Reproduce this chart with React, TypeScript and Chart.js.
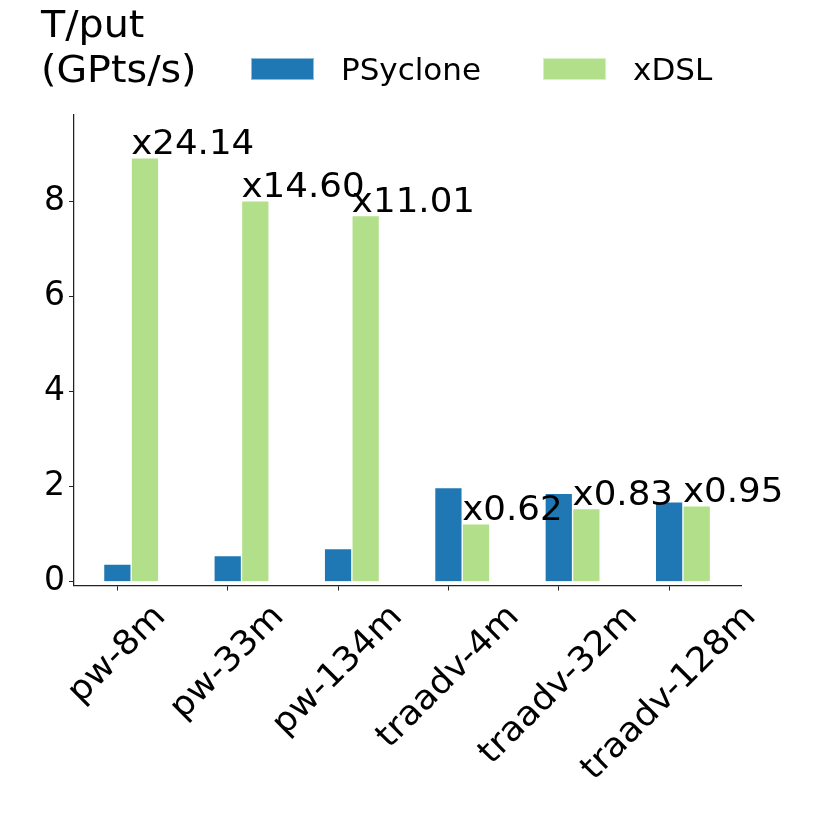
import { useEffect, useRef } from 'react';
import { Chart, registerables, Plugin } from 'chart.js';

Chart.register(...registerables);

const categories = ['pw-8m', 'pw-33m', 'pw-134m', 'traadv-4m', 'traadv-32m', 'traadv-128m'];
const psyclone = [0.37, 0.55, 0.7, 1.98, 1.86, 1.68];
const xdsl = [8.93, 8.02, 7.71, 1.22, 1.54, 1.6];
const speedups = [24.14, 14.6, 11.01, 0.62, 0.83, 0.95];
const yTicks = [0, 2, 4, 6, 8];
const titleLines = ['T/put', '(GPts/s)'];

const FONT = "'DejaVu Sans', sans-serif";
const BAR_OFFSET = 0.25;
const AXIS_COLOR = '#222';

// draws text squeezed/stretched horizontally by sx
function wideText(ctx: CanvasRenderingContext2D, text: string, x: number, y: number, sx: number) {
  ctx.save();
  ctx.translate(x, y);
  ctx.scale(sx, 1);
  ctx.fillText(text, 0, 0);
  ctx.restore();
}

// title, legend, speed-up labels and rotated category labels
const overlay: Plugin<'bar'> = {
  id: 'overlay',
  afterDraw(chart) {
    const { ctx, chartArea, scales } = chart;
    ctx.save();
    ctx.fillStyle = '#000';
    ctx.textAlign = 'left';
    ctx.textBaseline = 'alphabetic';

    ctx.font = `37px ${FONT}`;
    titleLines.forEach((t, i) => wideText(ctx, t, 41, 37 + i * 44.5, 1.07));

    // legend
    let lx = 251;
    ctx.font = `31px ${FONT}`;
    chart.data.datasets.forEach((ds) => {
      ctx.fillStyle = ds.backgroundColor as string;
      ctx.fillRect(lx, 58, 63, 22);
      ctx.strokeStyle = 'rgba(255,255,255,0.5)';
      ctx.lineWidth = 1;
      ctx.strokeRect(lx + 0.5, 58.5, 62, 21);
      ctx.fillStyle = '#000';
      const label = ds.label ?? '';
      ctx.fillText(label, lx + 90, 80);
      lx += 90 + ctx.measureText(label).width + 62;
    });

    // speed-up labels on top of the xDSL bars
    ctx.font = `33px ${FONT}`;
    const meta = chart.getDatasetMeta(1);
    meta.data.forEach((bar: any, i) => {
      const { x, y, width } = bar.getProps(['x', 'y', 'width'], true);
      wideText(ctx, 'x' + speedups[i].toFixed(2), x - width / 2, y - 4, 1.08);
    });

    // rotated x labels, centred under each tick
    const xs = scales.x;
    const fs = 34;
    const sx = 1.05;
    ctx.font = `${fs}px ${FONT}`;
    categories.forEach((c, i) => {
      const px = xs.getPixelForValue(i);
      const w = ctx.measureText(c).width * sx;
      const h = fs * 1.17;
      const H = (w + h) * Math.SQRT1_2;
      const cy = chartArea.bottom + 12 + H / 2;
      ctx.save();
      ctx.translate(px, cy);
      ctx.rotate(-Math.PI / 4);
      ctx.scale(sx, 1);
      ctx.textAlign = 'center';
      ctx.textBaseline = 'middle';
      ctx.fillText(c, 0, 0);
      ctx.restore();
    });
    ctx.restore();
  },
};

export default function App() {
  const canvasRef = useRef<HTMLCanvasElement>(null);

  useEffect(() => {
    if (!canvasRef.current) return;

    const chart = new Chart(canvasRef.current, {
      type: 'bar',
      data: {
        datasets: [
          {
            label: 'PSyclone',
            data: categories.map((_, i) => ({ x: i, y: psyclone[i] })),
            backgroundColor: '#1f78b4',
            borderColor: 'rgba(255,255,255,0.5)',
            borderWidth: 1,
            grouped: false,
            barPercentage: 1,
            categoryPercentage: 1,
          },
          {
            label: 'xDSL',
            data: categories.map((_, i) => ({ x: i + BAR_OFFSET, y: xdsl[i] })),
            backgroundColor: '#b2df8a',
            borderColor: 'rgba(255,255,255,0.5)',
            borderWidth: 1,
            grouped: false,
            barPercentage: 1,
            categoryPercentage: 1,
          },
        ],
      } as any,
      options: {
        responsive: false,
        animation: false,
        layout: { padding: { top: 115, right: 88.5, left: 0, bottom: 0 } },
        plugins: {
          legend: { display: false },
          title: { display: false },
          tooltip: { enabled: false },
        },
        scales: {
          x: {
            type: 'linear',
            min: -0.393,
            max: 5.656,
            offset: false,
            grid: {
              display: true,
              drawOnChartArea: false,
              drawTicks: true,
              tickLength: 5,
              color: AXIS_COLOR,
              offset: false,
            },
            border: { display: true, color: AXIS_COLOR, width: 1.25 },
            ticks: { display: false },
            afterBuildTicks: (s: any) => {
              s.ticks = categories.map((_, i) => ({ value: i }));
            },
            afterFit: (s: any) => {
              s.height = 244.5;
            },
          },
          y: {
            min: -0.08,
            max: 9.83,
            grid: {
              display: true,
              drawOnChartArea: false,
              drawTicks: true,
              tickLength: 5,
              color: AXIS_COLOR,
            },
            border: { display: true, color: AXIS_COLOR, width: 1.25 },
            ticks: {
              color: '#000',
              padding: 4,
              font: { family: FONT, size: 33 },
            },
            afterBuildTicks: (s: any) => {
              s.ticks = yTicks.map((v) => ({ value: v }));
            },
            afterFit: (s: any) => {
              s.width = 74;
            },
          },
        },
      } as any,
      plugins: [overlay],
    });

    return () => {
      chart.destroy();
    };
  }, []);

  return (
    <div style={{ position: 'absolute', left: 0, top: 0, width: 830, height: 830, background: '#fff' }}>
      <canvas ref={canvasRef} width={830} height={830} style={{ display: 'block' }} />
    </div>
  );
}
